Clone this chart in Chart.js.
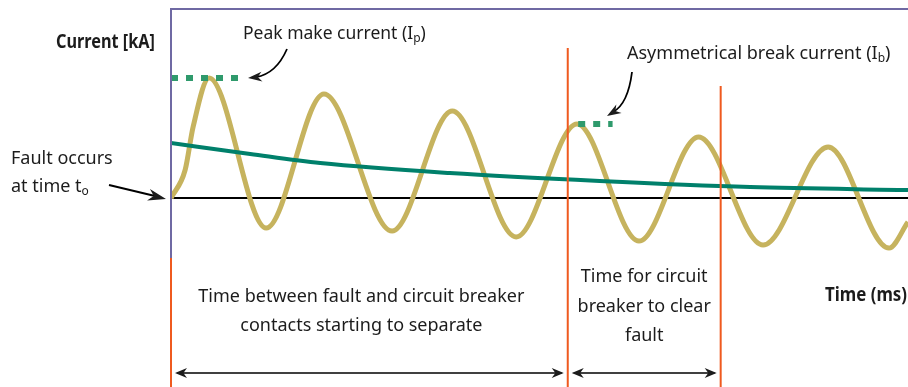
<!DOCTYPE html>
<html>
<head>
<meta charset="utf-8">
<script src="https://cdn.jsdelivr.net/npm/chart.js@4.4.1/dist/chart.umd.min.js"></script>
<style>
  html, body { margin: 0; padding: 0; background: #fff; }
  canvas { display: block; }
</style>
</head>
<body>
<canvas id="chart" width="908" height="387"></canvas>
<script>
// Short-circuit current (kA) against time (ms): crests and troughs of the fault current
const waveTimes = [0, 2.3, 3.6, 6.2, 15.5, 24.9, 36.0, 45.8, 56.2, 66.1, 76.2, 85.9, 96.4, 107.0, 116.9, 120];
const waveCurrent = [0, 1.48, 3.76, 6.35, -1.59, 5.50, -1.75, 4.60, -2.06, 3.92, -2.28, 3.23, -2.49, 2.70, -2.65, -1.27];

// Decaying DC component
const dcTimes = [0, 12.9, 24.3, 45.4, 69.8, 94.3, 120];
const dcCurrent = [2.91, 2.33, 1.85, 1.32, 0.90, 0.58, 0.42];

// Contacts start to separate / fault cleared
const eventTimes = [64.6, 89.5];
const eventTops = [7.94, 5.93];

// Peak markers: crest they mark (index into waveCurrent) and their time span
const peakIndex = [3, 9];
const peakSpans = [[0, 11], [66.3, 71.9]];

const X_MAX = 120;
const Y_MIN = -10;
const Y_MAX = 10;

const FONT = '"Noto Sans", sans-serif';
const TEXT = '#1c1c1c';
const FRAME = '#6f69a3';
const ORANGE = '#ef5a1f';

const pts = (xs, ys) => xs.map((x, i) => ({x, y: ys[i]}));

const datasets = [];

eventTimes.forEach((t, i) => {
  datasets.push({
    data: [{x: t, y: eventTops[i]}, {x: t, y: Y_MIN}],
    borderColor: ORANGE,
    borderWidth: 2,
    order: 0,
  });
});

peakIndex.forEach((idx, i) => {
  const level = waveCurrent[idx];
  datasets.push({
    data: [{x: peakSpans[i][0], y: level}, {x: peakSpans[i][1], y: level}],
    borderColor: '#2f9a6c',
    borderWidth: 6,
    borderDash: [7, 8],
    borderCapStyle: 'butt',
    order: 1,
  });
});

datasets.push({
  data: pts(dcTimes, dcCurrent),
  borderColor: '#00806b',
  borderWidth: 4,
  cubicInterpolationMode: 'monotone',
  order: 2,
});

datasets.push({
  data: pts(waveTimes, waveCurrent),
  borderColor: '#c6b35e',
  borderWidth: 5,
  cubicInterpolationMode: 'monotone',
  order: 3,
});

// zero axis
datasets.push({
  data: [{x: 0, y: 0}, {x: X_MAX, y: 0}],
  borderColor: '#000',
  borderWidth: 2,
  order: 4,
});

function arrowHead(ctx, x, y, angle, len, half) {
  ctx.save();
  ctx.translate(x, y);
  ctx.rotate(angle);
  ctx.beginPath();
  ctx.moveTo(0, 0);
  ctx.lineTo(-len, -half);
  ctx.lineTo(-len * 0.7, 0);
  ctx.lineTo(-len, half);
  ctx.closePath();
  ctx.fill();
  ctx.restore();
}

// text with a lowered small-letter subscript in the middle
function subText(ctx, x, y, before, sub, after, size) {
  ctx.font = size + 'px ' + FONT;
  ctx.fillText(before, x, y);
  let w = ctx.measureText(before).width;
  ctx.font = Math.round(size * 0.68) + 'px ' + FONT;
  ctx.fillText(sub, x + w, y + 3);
  w += ctx.measureText(sub).width;
  ctx.font = size + 'px ' + FONT;
  ctx.fillText(after, x + w, y);
}

// bold axis title squeezed to a given width
function boldTitle(ctx, text, x, y, width) {
  ctx.save();
  ctx.font = 'bold 19px ' + FONT;
  ctx.textAlign = 'left';
  const k = width / ctx.measureText(text).width;
  ctx.translate(x, y);
  ctx.scale(k, 1);
  ctx.fillText(text, 0, 0);
  ctx.restore();
}

const annotations = {
  id: 'annotations',
  afterDraw(chart) {
    const {ctx, chartArea: a, scales: {x, y}} = chart;
    ctx.save();

    // frame: top and left edges, left edge turns orange below the curve
    const split = y.getPixelForValue(-3.17);
    ctx.lineWidth = 2;
    ctx.strokeStyle = FRAME;
    ctx.beginPath();
    ctx.moveTo(a.left, split);
    ctx.lineTo(a.left, a.top);
    ctx.lineTo(a.right, a.top);
    ctx.stroke();
    ctx.strokeStyle = ORANGE;
    ctx.beginPath();
    ctx.moveTo(a.left, split);
    ctx.lineTo(a.left, a.bottom);
    ctx.stroke();

    ctx.fillStyle = TEXT;
    ctx.strokeStyle = '#000';
    ctx.textBaseline = 'alphabetic';

    boldTitle(ctx, 'Current [kA]', 56, 48, 99);
    boldTitle(ctx, 'Time (ms)', 825, 301, 82);

    ctx.textAlign = 'left';
    subText(ctx, 243, 39, 'Peak make current (I', 'p', ')', 17.5);
    subText(ctx, 627, 59, 'Asymmetrical break current (I', 'b', ')', 18);

    ctx.font = '18px ' + FONT;
    ctx.fillText('Fault occurs', 11, 164);
    subText(ctx, 11, 192, 'at time t', 'o', '', 18);

    ctx.textAlign = 'center';
    ctx.font = '18px ' + FONT;
    const mid1 = (x.getPixelForValue(0) + x.getPixelForValue(eventTimes[0])) / 2 - 8;
    ctx.fillText('Time between fault and circuit breaker', mid1, 302);
    ctx.fillText('contacts starting to separate', mid1, 331);
    const mid2 = (x.getPixelForValue(eventTimes[0]) + x.getPixelForValue(eventTimes[1])) / 2;
    ctx.fillText('Time for circuit', mid2, 282);
    ctx.fillText('breaker to clear', mid2, 312);
    ctx.fillText('fault', mid2, 341);

    // double arrows under each interval
    const ay = y.getPixelForValue(-9.26);
    const spans = [[0, eventTimes[0]], [eventTimes[0], eventTimes[1]]];
    ctx.lineWidth = 1.5;
    spans.forEach(([t0, t1]) => {
      const x0 = x.getPixelForValue(t0) + 4;
      const x1 = x.getPixelForValue(t1) - 4;
      ctx.beginPath();
      ctx.moveTo(x0 + 2, ay);
      ctx.lineTo(x1 - 2, ay);
      ctx.stroke();
      arrowHead(ctx, x1, ay, 0, 12, 5);
      arrowHead(ctx, x0, ay, Math.PI, 12, 5);
    });

    // fault onset arrow
    ctx.lineWidth = 2;
    ctx.beginPath();
    ctx.moveTo(109, 185);
    ctx.lineTo(155, 196);
    ctx.stroke();
    arrowHead(ctx, 166, 199, Math.atan2(14, 57), 18, 6);

    // curved pointer to the make peak
    ctx.lineWidth = 1.8;
    ctx.beginPath();
    ctx.moveTo(287, 49);
    ctx.quadraticCurveTo(276, 74, 256, 77);
    ctx.stroke();
    arrowHead(ctx, 248, 78, Math.PI - 0.1, 14, 5);

    // curved pointer to the break peak
    ctx.beginPath();
    ctx.moveTo(632, 72);
    ctx.quadraticCurveTo(628, 104, 613, 112);
    ctx.stroke();
    arrowHead(ctx, 607, 116, Math.PI - 0.55, 14, 5);

    ctx.restore();
  },
};

new Chart(document.getElementById('chart'), {
  type: 'line',
  data: {datasets},
  options: {
    responsive: false,
    animation: false,
    devicePixelRatio: 1,
    layout: {padding: {left: 171, top: 9, right: 0, bottom: 0}},
    elements: {point: {radius: 0}},
    scales: {
      x: {type: 'linear', min: 0, max: X_MAX, display: false},
      y: {min: Y_MIN, max: Y_MAX, display: false},
    },
    plugins: {legend: {display: false}, tooltip: {enabled: false}},
  },
  plugins: [annotations],
});
</script>
</body>
</html>
